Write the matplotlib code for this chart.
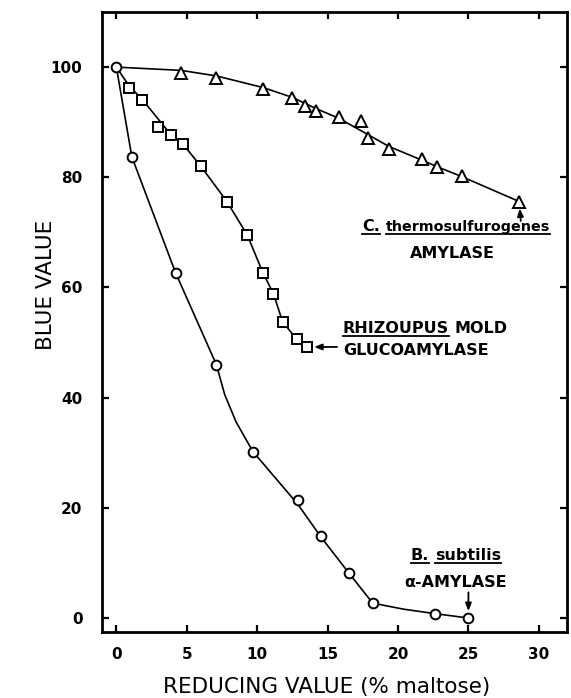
import matplotlib
matplotlib.use('Agg')
import matplotlib.pyplot as plt
from matplotlib.lines import Line2D

W, H = 571, 698

# ---- data ----
# B. subtilis alpha-amylase (circles)
bs_x = [0, 1.1, 4.2, 7.1, 9.7, 12.9, 14.5, 16.5, 18.2, 22.6, 25.0]
bs_y = [100, 83.7, 62.7, 46.0, 30.2, 21.4, 14.8, 8.2, 2.7, 0.8, 0.0]
bs_curve_x = [0, 1.1, 4.2, 7.1, 7.7, 8.5, 9.7, 12.9, 14.5, 16.5, 18.2, 20.4, 22.6, 25.0]
bs_curve_y = [100, 83.7, 62.7, 46.0, 40.5, 35.6, 30.2, 20.6, 14.8, 8.2, 2.7, 1.6, 0.8, 0.0]

# Rhizopus mold glucoamylase (squares)
rm_x = [0.9, 1.85, 2.95, 3.85, 4.7, 6.0, 7.85, 9.3, 10.4, 11.15, 11.8, 12.8, 13.55]
rm_y = [96.2, 94.1, 89.2, 87.6, 86.1, 82.0, 75.6, 69.5, 62.7, 58.9, 53.8, 50.6, 49.2]
rm_curve_x = [0, 0.9, 1.85, 3.85, 4.7, 6.0, 7.85, 9.3, 10.4, 11.15, 11.8, 12.8, 13.55]
rm_curve_y = [100, 96.6, 94.1, 87.8, 86.1, 82.0, 75.6, 69.5, 62.7, 58.9, 53.8, 50.6, 49.2]

# C. thermosulfurogenes amylase (triangles)
ct_x = [4.6, 7.1, 10.4, 12.5, 13.4, 14.15, 15.8, 17.4, 17.9, 19.35, 21.7, 22.8, 24.55, 28.6]
ct_y = [99.0, 98.1, 96.0, 94.3, 92.9, 92.0, 90.9, 90.3, 87.1, 85.2, 83.3, 81.9, 80.2, 75.6]
ct_curve_x = [0, 4.6, 7.1, 10.4, 12.5, 13.4, 14.15, 15.8, 17.9, 19.35, 21.7, 22.8, 24.55, 28.6]
ct_curve_y = [100, 99.4, 98.4, 96.3, 94.5, 93.4, 92.5, 90.7, 87.7, 85.6, 83.1, 81.9, 80.1, 75.6]

x_ticks = [0, 5, 10, 15, 20, 25, 30]
y_ticks = [0, 20, 40, 60, 80, 100]

plt.rcParams['font.family'] = ['DejaVu Sans']

fig = plt.figure(figsize=(W / 100, H / 100), dpi=100)
ax = fig.add_axes([102 / W, 1 - 632 / H, (567 - 102) / W, (632 - 12) / H])
ax.set_xlim(-1.02, 32.0)
ax.set_ylim(-2.54, 110.0)

lw = 1.2
ax.plot(bs_curve_x, bs_curve_y, color='black', lw=lw, zorder=2)
ax.plot(rm_curve_x, rm_curve_y, color='black', lw=lw, zorder=2)
ax.plot(ct_curve_x, ct_curve_y, color='black', lw=lw, zorder=2)

mk = dict(linestyle='none', mfc='white', mec='black', mew=1.4, zorder=3)
ax.plot(bs_x, bs_y, marker='o', ms=7, **mk)
ax.plot(rm_x, rm_y, marker='s', ms=6.5, **mk)
ax.plot(ct_x, ct_y, marker='^', ms=8.5, **mk)

ax.set_xticks(x_ticks)
ax.set_yticks(y_ticks)
ax.set_xticklabels([str(v) for v in x_ticks])
ax.set_yticklabels([str(v) for v in y_ticks])
ax.tick_params(direction='in', length=5, width=1.6, top=True, right=True,
               labelsize=11, pad=11)
for lab in ax.get_xticklabels() + ax.get_yticklabels():
    lab.set_fontweight('bold')
ax.tick_params(axis='y', pad=14)
for sp in ax.spines.values():
    sp.set_linewidth(2.0)

ax.set_xlabel('REDUCING VALUE (% maltose)', fontsize=15.5)
ax.set_ylabel('BLUE VALUE', fontsize=15.5)
ax.xaxis.set_label_coords((327 - 102) / 465, (632 - 687) / 620)
ax.xaxis.label.set_va('center')
ax.yaxis.set_label_coords((46 - 102) / 465, (632 - 285) / 620)
ax.yaxis.label.set_va('center')

# ---- annotations ----
fig.canvas.draw()
renderer = fig.canvas.get_renderer()
FS = 11.5
TW = 'bold'


def width_px(s, size=FS):
    t = fig.text(0, 0, s, fontsize=size, fontweight=TW)
    w = t.get_window_extent(renderer).width
    t.remove()
    return w


space_w = width_px('a a') - width_px('aa')


def seg_text(segments, x_px, base_px, align='left', ul_off=3.0):
    texts = []
    widths = []
    for seg in segments:
        s, ul = seg[0], seg[1]
        size = seg[2] if len(seg) > 2 else FS
        t = fig.text(0, 1 - base_px / H, s, fontsize=size, fontweight=TW,
                     ha='left', va='baseline')
        widths.append(t.get_window_extent(renderer).width)
        texts.append((t, ul))
    total = sum(widths) + space_w * (len(segments) - 1)
    x0 = x_px if align == 'left' else x_px - total / 2
    x = x0
    for (t, ul), w in zip(texts, widths):
        t.set_x(x / W)
        if ul:
            y = 1 - (base_px + ul_off) / H
            fig.add_artist(Line2D([x / W, (x + w) / W], [y, y],
                                  transform=fig.transFigure, color='black', lw=1.3))
        x += w + space_w


seg_text([('C.', True), ('thermosulfurogenes', True, 10.3)], 456, 231, align='center')
seg_text([('AMYLASE', False)], 452, 258, align='center')
seg_text([('RHIZOUPUS', True), ('MOLD', False)], 343, 333)
seg_text([('GLUCOAMYLASE', False)], 343, 355)
seg_text([('B.', True), ('subtilis', True)], 456, 560, align='center')
seg_text([('\u03b1-AMYLASE', False)], 455.5, 587, align='center')

arrow = dict(arrowstyle='-|>,head_length=0.45,head_width=0.18', color='black',
             lw=1.3, shrinkA=0, shrinkB=5)
ax.annotate('', xy=(ct_x[-1], ct_y[-1]), xytext=(1.2, -14), textcoords='offset points',
            arrowprops=arrow)
ax.annotate('', xy=(rm_x[-1], rm_y[-1]), xytext=(21.5, 0), textcoords='offset points',
            arrowprops=arrow)
ax.annotate('', xy=(bs_x[-1], bs_y[-1]), xytext=(0, 18.5), textcoords='offset points',
            arrowprops=arrow)

fig.savefig('out.png', dpi=100)
